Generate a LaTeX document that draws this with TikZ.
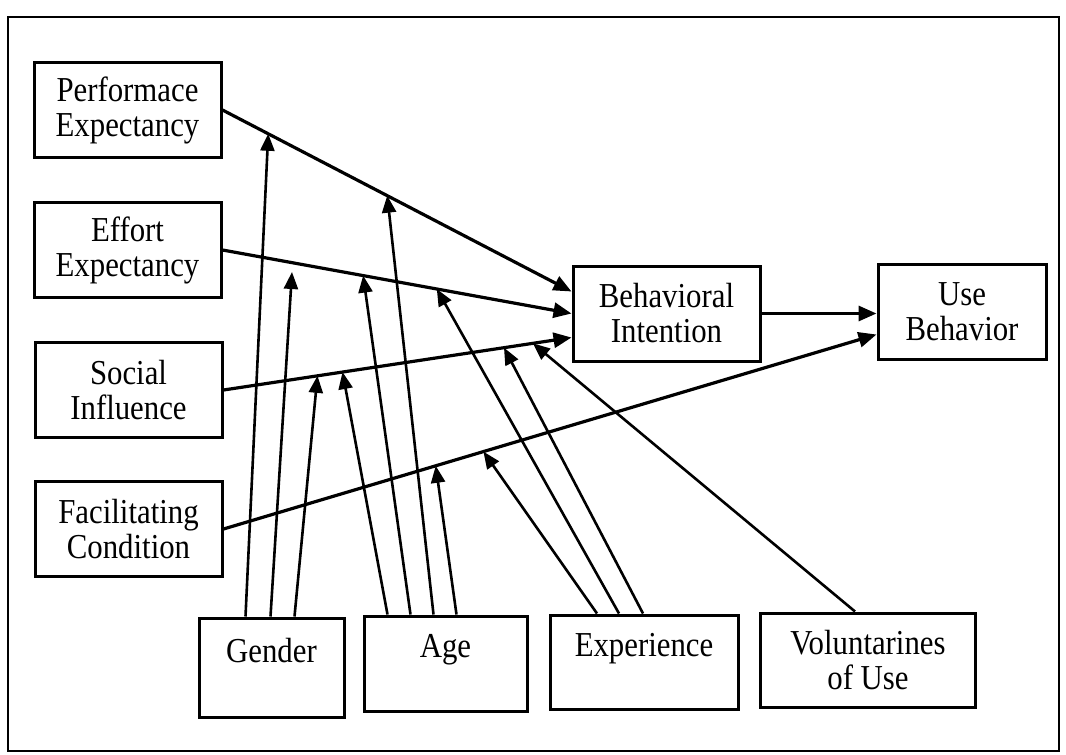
\documentclass[tikz,border=0pt]{standalone}
\usepackage{fontspec}
\setmainfont{Liberation Serif}[FakeStretch=0.88]
\usetikzlibrary{arrows.meta}

\begin{document}
\begin{tikzpicture}[x=1pt,y=-1pt,
font=\fontsize{35}{35}\selectfont,
box/.style={draw=black, line width=3pt, align=center, inner sep=0pt},
mainline/.style={-{Triangle[length=18pt,width=15pt]}, line width=3.2pt},
modline/.style={-{Triangle[length=17pt,width=14pt]}, line width=2.6pt},
]
%Frame
\useasboundingbox (0,0) rectangle (1066,755);
\draw[line width=2.4pt] (8,17) rectangle (1059,751);
%Nodes
\node[box, minimum width=187pt, minimum height=95pt] at (127.5,110) (pe) {Performace\\Expectancy};
\node[box, minimum width=187pt, minimum height=95pt] at (127.5,250) (ee) {Effort\\Expectancy};
\node[box, minimum width=187pt, minimum height=95pt] at (128.5,390) (si) {Social\\Influence};
\node[box, minimum width=187pt, minimum height=95pt] at (128.5,529) (fc) {Facilitating\\Condition};
\node[box, minimum width=187pt, minimum height=95pt] at (666.5,313.5) (bi) {Behavioral\\Intention};
\node[box, minimum width=168pt, minimum height=95pt] at (962,311.5) (ub) {Use\\Behavior};
\node[box, minimum width=145pt, minimum height=99pt] at (271.5,667.5) (gender) {Gender\\\mbox{}};
\node[box, minimum width=163pt, minimum height=95pt] at (445.5,663.5) (age) {Age\\\mbox{}};
\node[box, minimum width=188pt, minimum height=94pt] at (644,662) (exp) {Experience\\\mbox{}};
\node[box, minimum width=215pt, minimum height=94pt] at (868,660) (vol) {Voluntarines\\of Use};
\coordinate (eegap) at (292,272);
%Lines
\draw[mainline] (pe.east) -- coordinate[pos=0.131] (pe1) coordinate[pos=0.472] (pe2) ([yshift=22pt]bi.west);
\draw[mainline] (ee.east) -- coordinate[pos=0.403] (ee1) coordinate[pos=0.614] (ee2) (bi.west);
\draw[mainline] (si.east) -- coordinate[pos=0.27] (si1) coordinate[pos=0.342] (si2) coordinate[pos=0.806] (si3) coordinate[pos=0.889] (si4) ([yshift=-24pt]bi.west);
\draw[mainline] (fc.east) -- coordinate[pos=0.325] (fc1) coordinate[pos=0.398] (fc2) ([yshift=-23pt]ub.west);
\draw[mainline] (bi.east) -- (bi.east -| ub.west);
%Moderators
\draw[modline] ([xshift=-26pt]gender.north) -- (pe1);
\draw[modline] ([xshift=-1pt]gender.north) -- (eegap);
\draw[modline] ([xshift=23pt]gender.north) -- (si1);
\draw[modline] ([xshift=-58pt]age.north) -- (si2);
\draw[modline] ([xshift=-35pt]age.north) -- (ee1);
\draw[modline] ([xshift=-12pt]age.north) -- (pe2);
\draw[modline] ([xshift=11pt]age.north) -- (fc1);
\draw[modline] ([xshift=-47pt]exp.north) -- (fc2);
\draw[modline] ([xshift=-25pt]exp.north) -- (ee2);
\draw[modline] ([xshift=-1pt]exp.north) -- (si3);
\draw[modline] ([xshift=-13pt]vol.north) -- (si4);
\end{tikzpicture}
\end{document}
